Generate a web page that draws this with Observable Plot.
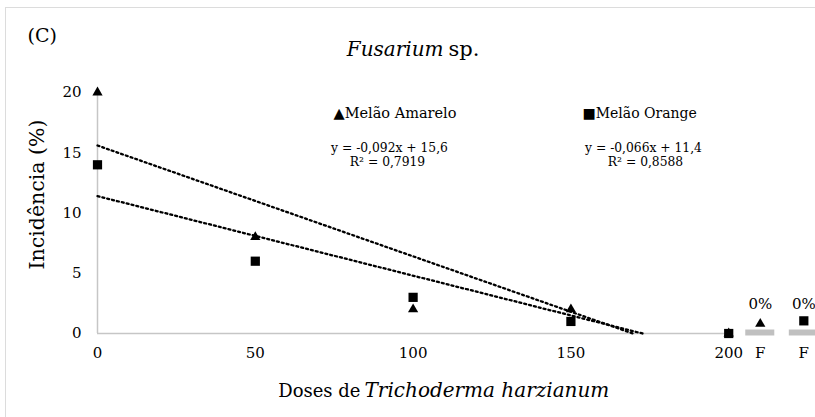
<!DOCTYPE html>
<html>
<head>
<meta charset="utf-8">
<script src="https://cdn.jsdelivr.net/npm/d3@7"></script>
<script src="https://cdn.jsdelivr.net/npm/@observablehq/plot@0.6"></script>
<style>
  html, body { margin: 0; padding: 0; background: #fff; }
  #wrap { position: relative; width: 815px; height: 417px; overflow: hidden; }
  #border { position: absolute; left: 5px; top: 7px; width: 900px; height: 500px; border: 1.5px solid #dcdcdc; pointer-events: none; }
  svg { display: block; }
  svg, svg text { font-family: "DejaVu Serif", "Liberation Serif", serif !important; }
</style>
</head>
<body>
<div id="wrap"><div id="border"></div></div>
<script>
// ---- data ----
const doses = [0, 50, 100, 150, 200];
const amarelo = [20, 8, 2, 2, 0];
const orange = [14, 6, 3, 1, 0];
// the two "F" positions and their markers
const fPositions = [210, 223.8];
const fMarkerValues = [0.8, 1.05];
const fLabels = ["0%", "0%"];
// trendlines (from the displayed equations), start and end points
const amareloTrendX = [0, 169.6];
const amareloTrendY = [15.6, 0];
const orangeTrendX = [0, 172.7];
const orangeTrendY = [11.4, 0];
// axis ticks
const yTicks = [0, 5, 10, 15, 20];
const xTicks = [0, 50, 100, 150, 200, 210, 223.8];
const xTickLabels = ["0", "50", "100", "150", "200", "F", "F"];

const ptsA = doses.map((d, i) => ({x: d, y: amarelo[i]}));
const ptsO = doses.map((d, i) => ({x: d, y: orange[i]}));
const trendA = amareloTrendX.map((x, i) => ({x, y: amareloTrendY[i]}));
const trendO = orangeTrendX.map((x, i) => ({x, y: orangeTrendY[i]}));
const fData = fPositions.map((x, i) => ({x, y: fMarkerValues[i], label: fLabels[i]}));
const tickLabel = new Map(xTicks.map((t, i) => [t, xTickLabels[i]]));

const FX = 97, FY = 92; // frame origin (used for annotation offsets)

const chart = Plot.plot({
  width: 815,
  height: 417,
  marginLeft: 97,
  marginRight: 0,
  marginTop: 92,
  marginBottom: 84,
  style: {fontFamily: "DejaVu Serif", fontSize: "15px", color: "#000", background: "transparent"},
  x: {domain: [0, 227.5]},
  y: {domain: [0, 20]},
  marks: [
    // axes lines
    Plot.ruleX([0], {y1: 0, y2: 20, stroke: "#c6c6c6", strokeWidth: 1.5}),
    Plot.ruleY([0], {x1: 0, x2: 200, stroke: "#c6c6c6", strokeWidth: 1.5}),
    Plot.axisY({ticks: yTicks, tickSize: 0, tickPadding: 16, fontSize: 15, label: null}),
    Plot.axisX({ticks: xTicks, tickSize: 0, tickPadding: 14, fontSize: 15, label: null, tickFormat: d => tickLabel.get(d)}),
    // F bars
    Plot.ruleY(fData, {y: 0, x1: d => d.x - 4.6, x2: d => d.x + 4.6, stroke: "#c0c0c0", strokeWidth: 6, dy: -1}),
    // trendlines
    Plot.line(trendA, {x: "x", y: "y", stroke: "#000", strokeWidth: 2.3, strokeDasharray: "2,3"}),
    Plot.line(trendO, {x: "x", y: "y", stroke: "#000", strokeWidth: 2.3, strokeDasharray: "2,3"}),
    // points
    Plot.dot(ptsA, {x: "x", y: "y", symbol: "triangle", r: 3.8, fill: "#000"}),
    Plot.dot(ptsO, {x: "x", y: "y", symbol: "square", r: 5.2, fill: "#000"}),
    Plot.dot(fData.slice(0, 1), {x: "x", y: "y", symbol: "triangle", r: 3.8, fill: "#000"}),
    Plot.dot(fData.slice(1), {x: "x", y: "y", symbol: "square", r: 5.2, fill: "#000"}),
    Plot.text(fData, {x: "x", y: 0, text: "label", dy: -25, fontSize: 15, lineAnchor: "bottom", textAnchor: "middle"}),
    // panel label
    Plot.text(["(C)"], {frameAnchor: "top-left", dx: 27 - FX, dy: 41 - FY, textAnchor: "start", lineAnchor: "bottom", fontSize: 19}),
    // title
    Plot.text(["Fusarium"], {frameAnchor: "top-left", dx: 443 - FX, dy: 55 - FY, textAnchor: "end", lineAnchor: "bottom", fontSize: 20, fontStyle: "italic"}),
    Plot.text(["sp."], {frameAnchor: "top-left", dx: 448 - FX, dy: 55 - FY, textAnchor: "start", lineAnchor: "bottom", fontSize: 21}),
    // legend
    Plot.text(["▲Melão Amarelo"], {frameAnchor: "top-left", dx: 333 - FX, dy: 117 - FY, textAnchor: "start", lineAnchor: "bottom", fontSize: 14.5}),
    Plot.text(["■Melão Orange"], {frameAnchor: "top-left", dx: 582 - FX, dy: 117 - FY, textAnchor: "start", lineAnchor: "bottom", fontSize: 14}),
    // equations
    Plot.text(["y = -0,092x + 15,6"], {frameAnchor: "top-left", dx: 389 - FX, dy: 151 - FY, textAnchor: "middle", lineAnchor: "bottom", fontSize: 12.3}),
    Plot.text(["R² = 0,7919"], {frameAnchor: "top-left", dx: 387 - FX, dy: 165.5 - FY, textAnchor: "middle", lineAnchor: "bottom", fontSize: 12.3}),
    Plot.text(["y = -0,066x + 11,4"], {frameAnchor: "top-left", dx: 643 - FX, dy: 151 - FY, textAnchor: "middle", lineAnchor: "bottom", fontSize: 12.3}),
    Plot.text(["R² = 0,8588"], {frameAnchor: "top-left", dx: 645 - FX, dy: 165.5 - FY, textAnchor: "middle", lineAnchor: "bottom", fontSize: 12.3}),
    // y label
    Plot.text(["Incidência (%)"], {frameAnchor: "top-left", dx: 37 - FX, dy: 194 - FY, rotate: -90, textAnchor: "middle", lineAnchor: "middle", fontSize: 20.5}),
    // x label
    Plot.text(["Doses de"], {frameAnchor: "top-left", dx: 360 - FX, dy: 396 - FY, textAnchor: "end", lineAnchor: "bottom", fontSize: 18}),
    Plot.text(["Trichoderma harzianum"], {frameAnchor: "top-left", dx: 364 - FX, dy: 396 - FY, textAnchor: "start", lineAnchor: "bottom", fontSize: 20, fontStyle: "italic"})
  ]
});
document.getElementById("wrap").prepend(chart);
</script>
</body>
</html>
